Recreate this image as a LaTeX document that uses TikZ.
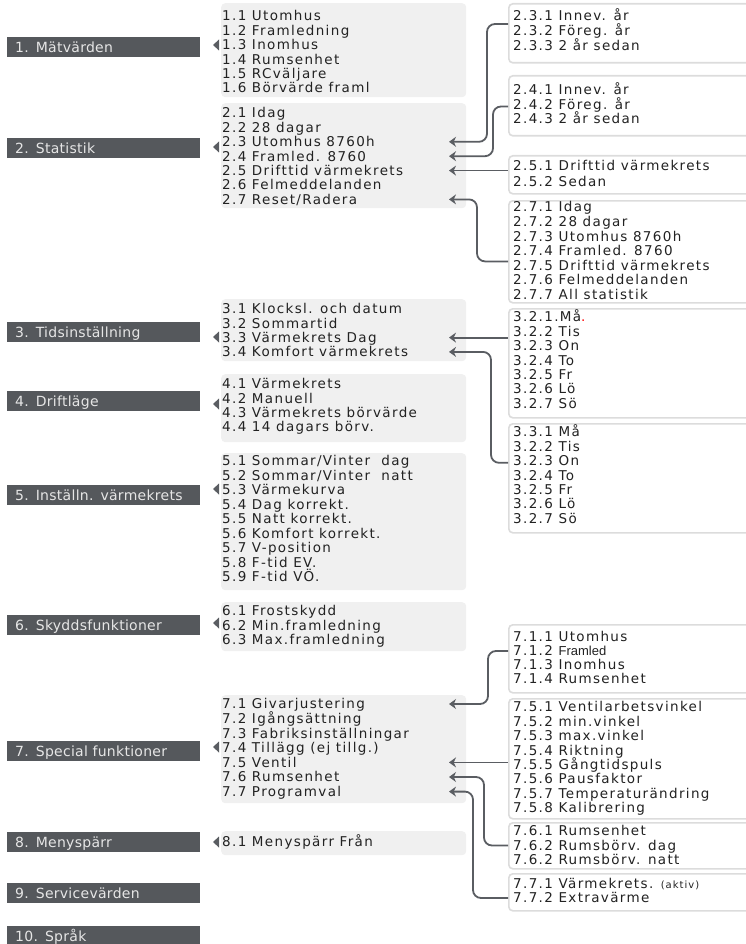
\documentclass[tikz,border=0pt]{standalone}
\usepackage{fontspec}
\setmainfont{DejaVu Sans}
\newfontfamily\menufont{DejaVu Sans}[LetterSpace=10]
\newfontfamily\headfont{DejaVu Sans}[LetterSpace=2]
\newfontfamily\narrowfont{Liberation Sans}
\usetikzlibrary{arrows.meta}

\definecolor{bargray}{HTML}{55585C}
\definecolor{headtext}{HTML}{E6E6E6}
\definecolor{boxgray}{HTML}{F0F0F0}
\definecolor{framegray}{HTML}{DCDCDC}
\definecolor{linkgray}{HTML}{5A5D62}
\definecolor{itemtext}{HTML}{222222}

\tikzset{
  headbar/.style={fill=bargray, text=headtext, anchor=west, inner xsep=8pt, inner ysep=0pt,
    text width=177pt, align=left, minimum height=20pt, text height=10.2pt, text depth=0pt,
    font=\headfont\fontsize{14}{15}\selectfont},
  menubox/.style={fill=boxgray, rounded corners=4pt, anchor=north west, minimum width=245pt, inner sep=0pt},
  subbox/.style={draw=framegray, line width=1.6pt, fill=white, rounded corners=4pt, anchor=north west,
    minimum width=260pt, inner sep=0pt},
  entry/.style={anchor=west, inner sep=0pt, text=itemtext, text height=9.8pt, text depth=0pt,
    font=\menufont\fontsize{13.5}{14}\selectfont},
  pointer/.style={fill=linkgray},
  link/.style={draw=linkgray, line width=1.8pt, rounded corners=8pt, >={Stealth[length=7pt,width=10pt]}, <-},
}

\begin{document}
\begin{tikzpicture}[x=1pt,y=-1pt]
  \useasboundingbox (0,0) rectangle (746,944);
  \clip (0,0) rectangle (746,944);

  % main menu
  \foreach \t/\y [count=\i] in {1. Mätvärden/47, 2. Statistik/148.5, 3. Tidsinställning/332,
      4. Driftläge/401, 5. Inställn. värmekrets/495, 6. Skyddsfunktioner/625,
      7. Special funktioner/751, 8. Menyspärr/842, 9. Servicevärden/893, 10. Språk/936}
    \node[headbar] (bar\i) at (7,\y) {\t};
  \foreach \y in {45,147,337,404,489,623,747,842}
    \fill[pointer] (213,\y) -- ++(6,-5.5) -- ++(0,11) -- cycle;

  % second level
  \node[menubox, minimum height=94pt] (mb1) at (221,3) {};
  \node[menubox, minimum height=105pt] (mb2) at (221,103) {};
  \node[menubox, minimum height=62pt] (mb3) at (221,299) {};
  \node[menubox, minimum height=68pt] (mb4) at (221,374) {};
  \node[menubox, minimum height=137pt] (mb5) at (221,453) {};
  \node[menubox, minimum height=49pt] (mb6) at (221,602) {};
  \node[menubox, minimum height=108pt] (mb7) at (221,695) {};
  \node[menubox, minimum height=24pt] (mb8) at (221,831) {};

  \foreach \t [count=\i] in {1.1 Utomhus, 1.2 Framledning, 1.3 Inomhus, 1.4 Rumsenhet,
      1.5 RCväljare, 1.6 Börvärde framl}
    \node[entry] (m1-\i) at (222,{16+14.4*(\i-1)}) {\t};
  \foreach \t [count=\i] in {2.1 Idag, 2.2 28 dagar, 2.3 Utomhus 8760h, 2.4 Framled. 8760,
      2.5 Drifttid värmekrets, 2.6 Felmeddelanden, 2.7 Reset/Radera}
    \node[entry] (m2-\i) at (222,{113+14.4*(\i-1)}) {\t};
  \foreach \t [count=\i] in {3.1 Klocksl. och datum, 3.2 Sommartid, 3.3 Värmekrets Dag,
      3.4 Komfort värmekrets}
    \node[entry] (m3-\i) at (222,{309+14.3*(\i-1)}) {\t};
  \foreach \t [count=\i] in {4.1 Värmekrets, 4.2 Manuell, 4.3 Värmekrets börvärde,
      4.4 14 dagars börv.}
    \node[entry] (m4-\i) at (222,{384+14.3*(\i-1)}) {\t};
  \foreach \t [count=\i] in {5.1 Sommar/Vinter~~dag, 5.2 Sommar/Vinter~~natt, 5.3 Värmekurva,
      5.4 Dag korrekt., 5.5 Natt korrekt., 5.6 Komfort korrekt., 5.7 V-position,
      5.8 F-tid EV., 5.9 F-tid VÖ.}
    \node[entry] (m5-\i) at (222,{461+14.45*(\i-1)}) {\t};
  \foreach \t [count=\i] in {6.1 Frostskydd, 6.2 Min.framledning, 6.3 Max.framledning}
    \node[entry] (m6-\i) at (222,{611+14.5*(\i-1)}) {\t};
  \foreach \t [count=\i] in {7.1 Givarjustering, 7.2 Igångsättning, 7.3 Fabriksinställningar,
      7.4 Tillägg (ej tillg.), 7.5 Ventil, 7.6 Rumsenhet, 7.7 Programval}
    \node[entry] (m7-\i) at (222,{704+14.6*(\i-1)}) {\t};
  \node[entry] (m8-1) at (222,842) {8.1 Menyspärr Från};

  % third level
  \node[subbox, minimum height=59pt] (b231) at (508,3) {};
  \node[subbox, minimum height=60pt] (b241) at (508,75) {};
  \node[subbox, minimum height=38pt] (b251) at (508,155) {};
  \node[subbox, minimum height=102pt] (b271) at (508,200) {};
  \node[subbox, minimum height=109pt] (b32) at (508,308) {};
  \node[subbox, minimum height=109pt] (b33) at (508,423) {};
  \node[subbox, minimum height=68pt] (b71) at (508,624) {};
  \node[subbox, minimum height=120pt] (b75) at (508,698) {};
  \node[subbox, minimum height=46pt] (b76) at (508,822) {};
  \node[subbox, minimum height=37pt] (b77) at (508,873) {};

  \foreach \t [count=\i] in {2.3.1 Innev. år, 2.3.2 Föreg. år, 2.3.3 2 år sedan}
    \node[entry] (r23-\i) at (513,{16+15*(\i-1)}) {\t};
  \foreach \t [count=\i] in {2.4.1 Innev. år, 2.4.2 Föreg. år, 2.4.3 2 år sedan}
    \node[entry] (r24-\i) at (513,{90+14.5*(\i-1)}) {\t};
  \foreach \t [count=\i] in {2.5.1 Drifttid värmekrets, 2.5.2 Sedan}
    \node[entry] (r25-\i) at (513,{166+15.5*(\i-1)}) {\t};
  \foreach \t [count=\i] in {2.7.1 Idag, 2.7.2 28 dagar, 2.7.3 Utomhus 8760h, 2.7.4 Framled. 8760,
      2.7.5 Drifttid värmekrets, 2.7.6 Felmeddelanden, 2.7.7 All statistik}
    \node[entry] (r27-\i) at (513,{207+14.6*(\i-1)}) {\t};
  \foreach \t [count=\i] in {3.2.1.Må\textcolor{red}{.}, 3.2.2 Tis, 3.2.3 On, 3.2.4 To,
      3.2.5 Fr, 3.2.6 Lö, 3.2.7 Sö}
    \node[entry] (r32-\i) at (513,{317+14.4*(\i-1)}) {\t};
  \foreach \t [count=\i] in {3.3.1 Må, 3.2.2 Tis, 3.2.3 On, 3.2.4 To, 3.2.5 Fr, 3.2.6 Lö, 3.2.7 Sö}
    \node[entry] (r33-\i) at (513,{432+14.4*(\i-1)}) {\t};
  \foreach \t [count=\i] in {7.1.1 Utomhus, 7.1.2 {\narrowfont\fontsize{13}{14}\selectfont Framled},
      7.1.3 Inomhus, 7.1.4 Rumsenhet}
    \node[entry] (r71-\i) at (513,{637+14*(\i-1)}) {\t};
  \foreach \t [count=\i] in {7.5.1 Ventilarbetsvinkel, 7.5.2 min.vinkel, 7.5.3 max.vinkel,
      7.5.4 Riktning, 7.5.5 Gångtidspuls, 7.5.6 Pausfaktor, 7.5.7 Temperaturändring,
      7.5.8 Kalibrering}
    \node[entry] (r75-\i) at (513,{707+14.4*(\i-1)}) {\t};
  \foreach \t [count=\i] in {7.6.1 Rumsenhet, 7.6.2 Rumsbörv. dag, 7.6.2 Rumsbörv. natt}
    \node[entry] (r76-\i) at (513,{831+14.5*(\i-1)}) {\t};
  \foreach \t [count=\i] in {7.7.1 Värmekrets. {\fontsize{10}{10}\selectfont(aktiv)}, 7.7.2 Extravärme}
    \node[entry] (r77-\i) at (513,{884+14*(\i-1)}) {\t};

  % connectors
  \coordinate (tip) at (449,0);
  \coordinate (in23) at ([yshift=7pt]b231.west |- r23-2);
  \coordinate (in24) at ([yshift=-2pt]b241.west |- r24-2);
  \coordinate (in27) at ([yshift=4pt]b271.west |- r27-5);
  \coordinate (in33) at ([yshift=-2pt]b33.west |- r33-3);
  \draw[link] (tip |- m2-3) -| (487,0 |- in23) -- (in23);
  \draw[link] (tip |- m2-4) -| (493,0 |- in24) -- (in24);
  \draw[link] (tip |- m2-5) -- (b251.west |- m2-5);
  \draw[link] (tip |- m2-7) -| (477,0 |- in27) -- (in27);
  \draw[link] (tip |- m3-3) -- (b32.west |- m3-3);
  \draw[link] (tip |- m3-4) -| (491,0 |- in33) -- (in33);
  \draw[link] (tip |- m7-1) -| (488,0 |- r71-2) -- (b71.west |- r71-2);
  \draw[link] (tip |- m7-5) -- (b75.west |- m7-5);
  \draw[link] (tip |- m7-6) -| (484,0 |- r76-2) -- (b76.west |- r76-2);
  \draw[link] (tip |- m7-7) -| (473,0 |- r77-2) -- (b77.west |- r77-2);
\end{tikzpicture}
\end{document}
